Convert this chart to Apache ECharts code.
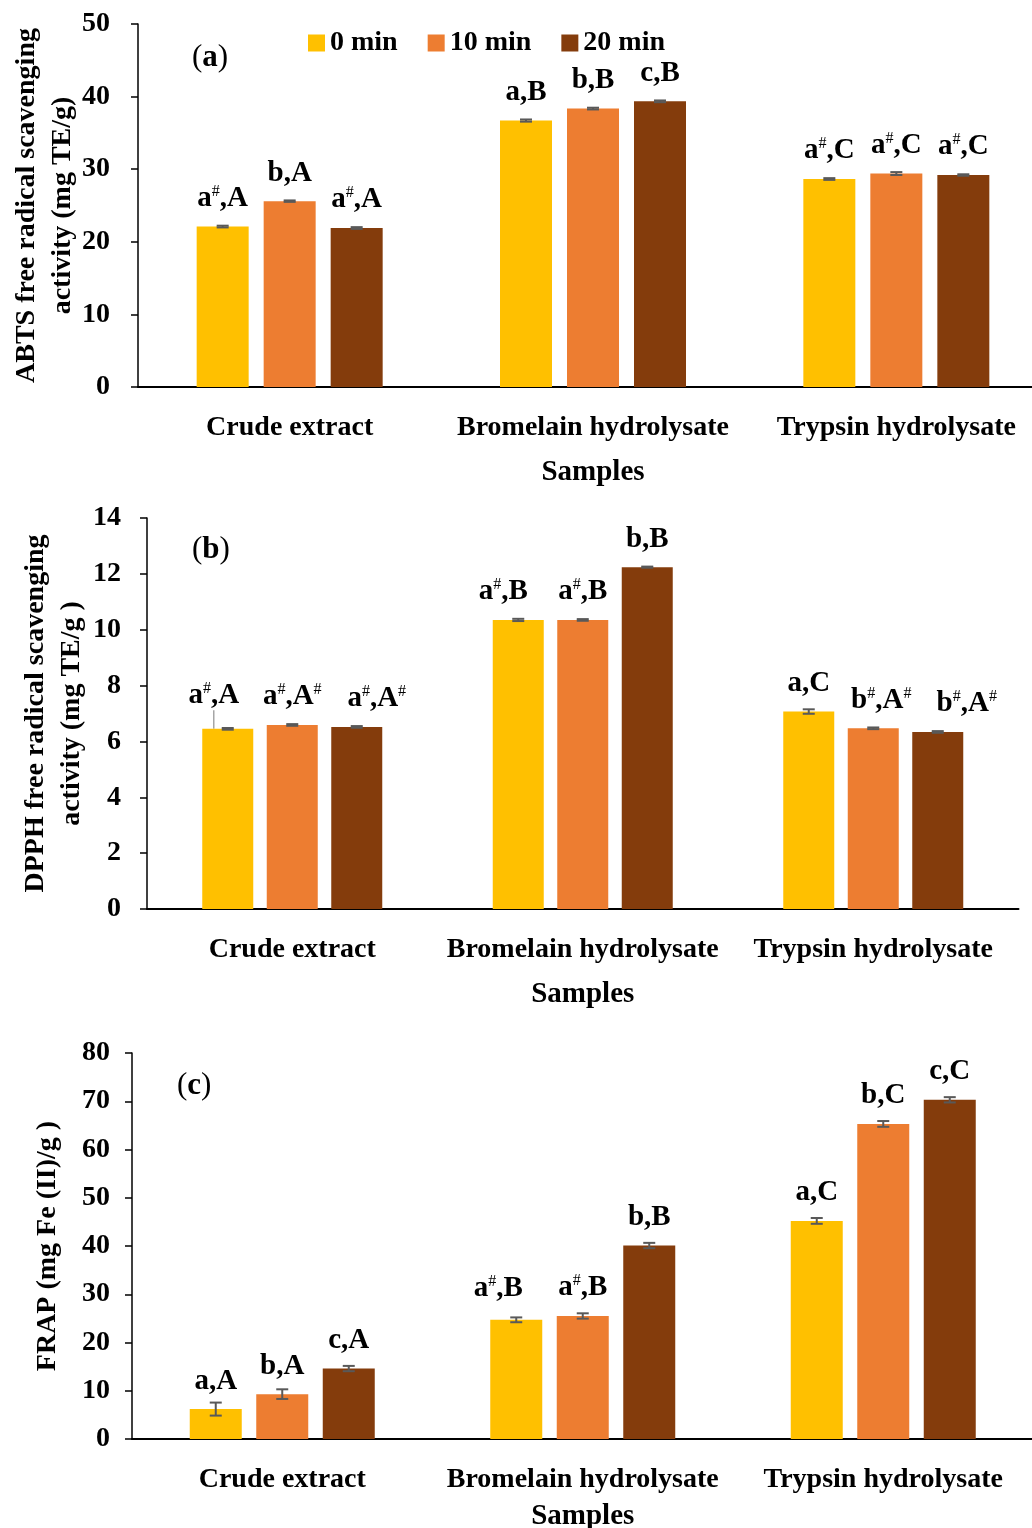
<!DOCTYPE html>
<html><head><meta charset="utf-8">
<script src="https://cdn.jsdelivr.net/npm/echarts@6/dist/echarts.min.js"></script>
<style>html,body{margin:0;padding:0;background:#fff;overflow:hidden;width:1032px;height:1528px}#c{width:1060px;height:1528px}</style>
</head><body><div id="c"></div>
<script>
// ---------- DATA ----------
const categories = ['Crude extract', 'Bromelain hydrolysate', 'Trypsin hydrolysate'];
const seriesNames = ['0 min', '10 min', '20 min'];
const xAxisName = 'Samples';

// (a) ABTS
const abts0 = [22.1, 36.7, 28.65];
const abts10 = [25.6, 38.35, 29.4];
const abts20 = [21.9, 39.35, 29.2];
const abtsErr0 = [0.12, 0.15, 0.12];
const abtsErr10 = [0.1, 0.12, 0.2];
const abtsErr20 = [0.12, 0.12, 0.1];
const abtsLab0 = ['a#,A', 'a,B', 'a#,C'];
const abtsLab10 = ['b,A', 'b,B', 'a#,C'];
const abtsLab20 = ['a#,A', 'c,B', 'a#,C'];
const abtsYTicks = [0, 10, 20, 30, 40, 50];

// (b) DPPH
const dpph0 = [6.45, 10.35, 7.07];
const dpph10 = [6.59, 10.35, 6.47];
const dpph20 = [6.52, 12.24, 6.34];
const dpphErr0 = [0.03, 0.04, 0.08];
const dpphErr10 = [0.03, 0.03, 0.03];
const dpphErr20 = [0.03, 0.02, 0.03];
const dpphLab0 = ['a#,A', 'a#,B', 'a,C'];
const dpphLab10 = ['a#,A#', 'a#,B', 'b#,A#'];
const dpphLab20 = ['a#,A#', 'b,B', 'b#,A#'];
const dpphYTicks = [0, 2, 4, 6, 8, 10, 12, 14];

// (c) FRAP
const frap0 = [6.2, 24.7, 45.2];
const frap10 = [9.3, 25.5, 65.3];
const frap20 = [14.6, 40.1, 70.3];
const frapErr0 = [1.35, 0.5, 0.6];
const frapErr10 = [1.0, 0.55, 0.6];
const frapErr20 = [0.55, 0.55, 0.55];
const frapLab0 = ['a,A', 'a#,B', 'a,C'];
const frapLab10 = ['b,A', 'a#,B', 'b,C'];
const frapLab20 = ['c,A', 'b,B', 'c,C'];
const frapYTicks = [0, 10, 20, 30, 40, 50, 60, 70, 80];

const panelTitles = ['a', 'b', 'c'];
const yNames = [
  'ABTS free radical scavenging\nactivity (mg TE/g)',
  'DPPH free radical scavenging\nactivity (mg TE/g )',
  'FRAP (mg Fe (II)/g )'
];

// ---------- STYLE / LAYOUT ----------
const colors = ['#FFC000', '#ED7D31', '#843C0C'];
const FF = "'Liberation Serif', 'Times New Roman', serif";
const panels = [
  { left: 138, top: 24, width: 910, height: 363, bw: 52, gap: 15, lblMargin: 28, nameGap: 57, xNameGap: 71,
    vals: [abts0, abts10, abts20], errs: [abtsErr0, abtsErr10, abtsErr20], labs: [abtsLab0, abtsLab10, abtsLab20], ticks: abtsYTicks,
    titlePos: [192, 42] },
  { left: 147, top: 518, width: 871.5, height: 391, bw: 51, gap: 13.5, lblMargin: 26, nameGap: 57, xNameGap: 71,
    vals: [dpph0, dpph10, dpph20], errs: [dpphErr0, dpphErr10, dpphErr20], labs: [dpphLab0, dpphLab10, dpphLab20], ticks: dpphYTicks,
    titlePos: [192, 534] },
  { left: 132, top: 1053, width: 901.5, height: 386, bw: 52, gap: 14.5, lblMargin: 22, nameGap: 66, xNameGap: 63,
    vals: [frap0, frap10, frap20], errs: [frapErr0, frapErr10, frapErr20], labs: [frapLab0, frapLab10, frapLab20], ticks: frapYTicks,
    titlePos: [177, 1070] }
];
// manual label nudges (panel-series-index): [dx, dy]
const labelShift = {
  '1-0-0': [-14, -5], '1-0-1': [-15, 0], '1-2-0': [20, 0], '1-1-2': [8, 0], '1-2-2': [29, 0], '2-0-1': [-18, -3]
};

function richLabel(s) {
  return ('{n|' + s.replace(/#/g, '}{s|#}{n|') + '}').replace(/\{n\|\}/g, '');
}
const labelRich = {
  n: { fontFamily: FF, fontWeight: 'bold', fontSize: 29, color: '#000', lineHeight: 30 },
  s: { fontFamily: FF, fontWeight: 'normal', fontSize: 16, color: '#000', lineHeight: 17, verticalAlign: 'top' }
};

const grids = [], xAxes = [], yAxes = [], series = [], titles = [];
panels.forEach((p, pi) => {
  grids.push({ left: p.left, top: p.top, width: p.width, height: p.height, containLabel: false, outerBoundsMode: 'none' });
  xAxes.push({
    type: 'category', gridIndex: pi, data: categories,
    axisLine: { lineStyle: { color: '#000', width: 2 } },
    axisTick: { show: false },
    axisLabel: { color: '#000', fontFamily: FF, fontWeight: 'bold', fontSize: 28, margin: 27, interval: 0 },
    name: xAxisName, nameLocation: 'middle', nameGap: p.xNameGap, nameMoveOverlap: false,
    nameTextStyle: { color: '#000', fontFamily: FF, fontWeight: 'bold', fontSize: 29, lineHeight: 30 }
  });
  const tk = p.ticks;
  yAxes.push({
    type: 'value', gridIndex: pi, min: tk[0], max: tk[tk.length - 1], interval: tk[1] - tk[0],
    splitLine: { show: false },
    axisLine: { show: true, lineStyle: { color: '#000', width: 1.5 } },
    axisTick: { show: true, length: 7, lineStyle: { color: '#000', width: 1.5 } },
    axisLabel: { color: '#000', fontFamily: FF, fontWeight: 'bold', fontSize: 28, margin: p.lblMargin },
    name: yNames[pi], nameLocation: 'middle', nameRotate: 90, nameGap: p.nameGap, nameMoveOverlap: false,
    nameTextStyle: { color: '#000', fontFamily: FF, fontWeight: 'bold', fontSize: 28, lineHeight: 36, align: 'center' }
  });
  titles.push({
    text: '{p|(}{b|' + panelTitles[pi] + '}{p|)}', left: p.titlePos[0], top: p.titlePos[1], padding: 0,
    textStyle: { rich: {
      p: { fontFamily: FF, fontSize: 31, fontWeight: 'normal', color: '#000' },
      b: { fontFamily: FF, fontSize: 31, fontWeight: 'bold', color: '#000' }
    } }
  });
  for (let k = 0; k < 3; k++) {
    const labs = p.labs[k];
    const data = p.vals[k].map((v, i) => {
      const item = { value: v };
      if (pi === 1 && k === 0 && i === 0) {
        item.labelLine = { show: true, lineStyle: { color: '#A6A6A6', width: 1.5 } };
      }
      return item;
    });
    series.push({
      type: 'bar', name: seriesNames[k], xAxisIndex: pi, yAxisIndex: pi,
      data: data, barWidth: p.bw, barGap: (p.gap / p.bw * 100) + '%',
      itemStyle: { color: colors[k] },
      label: {
        show: true, position: 'top', distance: 13,
        formatter: (prm) => richLabel(labs[prm.dataIndex]),
        rich: labelRich
      },
      labelLayout: function (prm) {
        const s = labelShift[pi + '-' + k + '-' + prm.dataIndex];
        return s ? { dx: s[0], dy: s[1] } : {};
      },
      z: 2
    });
    const off = (k - 1) * (p.bw + p.gap);
    series.push({
      type: 'custom', xAxisIndex: pi, yAxisIndex: pi, z: 5, silent: true,
      data: p.vals[k].map((v, i) => [i, v, p.errs[k][i]]),
      renderItem: function (params, api) {
        const i = api.value(0), v = api.value(1), e = api.value(2);
        const t = api.coord([i, v + e]);
        const b = api.coord([i, v - e]);
        const x = t[0] + off;
        const st = { stroke: '#595959', lineWidth: 2 };
        return { type: 'group', children: [
          { type: 'line', shape: { x1: x, y1: t[1], x2: x, y2: b[1] }, style: st },
          { type: 'line', shape: { x1: x - 6, y1: t[1], x2: x + 6, y2: t[1] }, style: st },
          { type: 'line', shape: { x1: x - 6, y1: b[1], x2: x + 6, y2: b[1] }, style: st }
        ] };
      }
    });
  }
});

const chart = echarts.init(document.getElementById('c'), null, { renderer: 'canvas' });
chart.setOption({
  backgroundColor: '#fff',
  animation: false,
  title: titles,
  legend: {
    data: seriesNames, left: 303, top: 24, itemWidth: 17, itemHeight: 17, itemGap: 30,
    icon: 'rect',
    textStyle: { color: '#000', fontFamily: FF, fontWeight: 'bold', fontSize: 28 }
  },
  grid: grids, xAxis: xAxes, yAxis: yAxes, series: series
});
</script></body></html>
